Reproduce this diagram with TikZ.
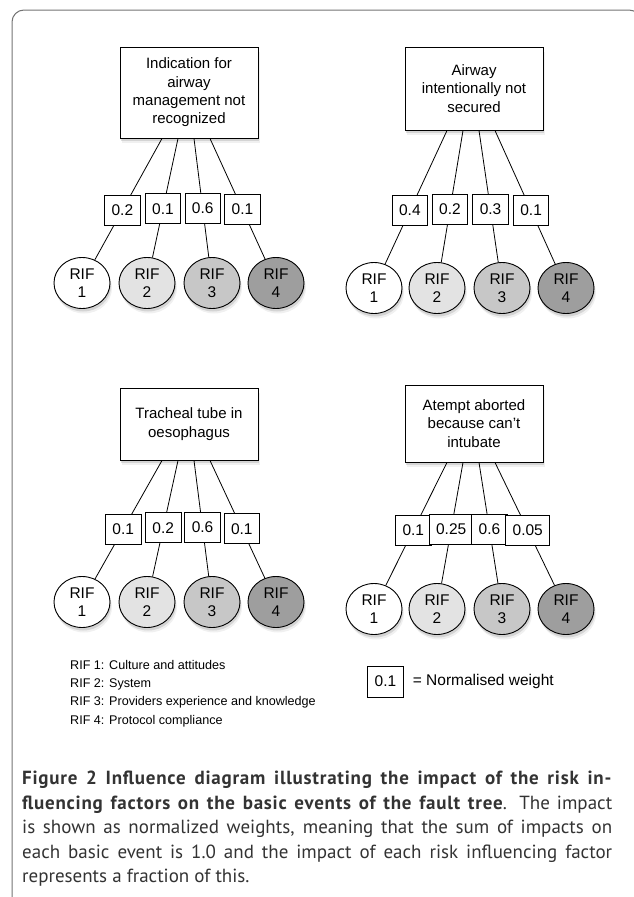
\documentclass[tikz,border=0pt]{standalone}
\usepackage{fontspec}
\setmainfont{Liberation Sans}
\newfontfamily\capfont[BoldFeatures={LetterSpace=4}]{PT Sans}
\usetikzlibrary{shapes.geometric,shadows,positioning}
\definecolor{rif1}{gray}{1.0}
\definecolor{rif2}{gray}{0.89}
\definecolor{rif3}{gray}{0.78}
\definecolor{rif4}{gray}{0.62}
\definecolor{framegray}{gray}{0.45}
\definecolor{captext}{gray}{0.2}

\begin{document}
\begin{tikzpicture}[x=1pt, y=-1pt,
    shadowed/.style={drop shadow={shadow xshift=1pt, shadow yshift=-3pt, opacity=0.25},
                     drop shadow={shadow xshift=2pt, shadow yshift=-5pt, opacity=0.12}},
    event/.style={draw, fill=white, line width=1pt, minimum width=138pt, align=center,
                  font=\fontsize{15}{18.3}\selectfont, shadowed},
    weight/.style={draw, fill=white, line width=0.8pt, minimum width=34pt, minimum height=30pt,
                   inner xsep=7pt, font=\fontsize{15.5}{18}\selectfont},
    rif/.style={ellipse, draw, line width=0.9pt, minimum width=56pt, minimum height=51pt,
                inner sep=0pt, align=center, font=\fontsize{15.5}{18}\selectfont, shadowed},
    link/.style={line width=0.8pt},
    key/.style={align=left, inner sep=0pt, font=\fontsize{12.6}{18.3}\selectfont},
    caption/.style={align=left, inner sep=0pt, text=captext, font=\capfont\fontsize{19}{24.5}\selectfont}
]
    \useasboundingbox (0,0) rectangle (633,897);

    % Frame
    \draw[framegray, line width=1pt, rounded corners=12pt] (12,930) -- (12,10) -- (641,10) -- (641,930);

    % Indication for airway management not recognized
    \node[event, minimum height=91pt] (ind) at (189,92.5) {Indication for\\airway\\management not\\recognized};
    \foreach \i/\x/\dx/\w in {1/82/-27/0.2, 2/147/-11/0.1, 3/212/5/0.6, 4/276/21/0.1} {
        \node[rif, fill=rif\i] (ind-r\i) at (\x,283) {RIF\\\i};
        \path (ind.south) ++(\dx,0) coordinate (ind-s\i);
        \draw[link] (ind-s\i) -- node[weight, pos=0.59] {\w} (ind-r\i);
    }

    % Airway intentionally not secured
    \node[event, minimum height=83pt] (air) at (474,88.5) {Airway\\intentionally not\\secured};
    \foreach \i/\x/\dx/\w in {1/374/-27/0.4, 2/437/-11/0.2, 3/502/5/0.3, 4/566/21/0.1} {
        \node[rif, fill=rif\i] (air-r\i) at (\x,288) {RIF\\\i};
        \path (air.south) ++(\dx,0) coordinate (air-s\i);
        \draw[link] (air-s\i) -- node[weight, pos=0.6] {\w} (air-r\i);
    }

    % Tracheal tube in oesophagus
    \node[event, minimum height=72pt] (tra) at (189,424) {Tracheal tube in\\oesophagus};
    \foreach \i/\x/\dx/\w in {1/82/-27/0.1, 2/147/-11/0.2, 3/212/5/0.6, 4/276/21/0.1} {
        \node[rif, fill=rif\i] (tra-r\i) at (\x,602) {RIF\\\i};
        \path (tra.south) ++(\dx,0) coordinate (tra-s\i);
        \draw[link] (tra-s\i) -- node[weight, pos=0.58] {\w} (tra-r\i);
    }

    % Atempt aborted because can't intubate
    \node[event, minimum height=77pt] (ate) at (474,423.5) {Atempt aborted\\because can't\\intubate};
    \foreach \i/\x/\dx/\w in {1/374/-27/0.1, 2/437/-11/0.25, 3/502/5/0.6, 4/566/21/0.05} {
        \node[rif, fill=rif\i] (ate-r\i) at (\x,609) {RIF\\\i};
        \path (ate.south) ++(\dx,0) coordinate (ate-s\i);
        \draw[link] (ate-s\i) -- node[weight, pos=0.55] {\w} (ate-r\i);
    }

    % Legend
    \node[key, anchor=north west] (rifkey) at (70,660) {RIF 1: Culture and attitudes\\RIF 2: System\\RIF 3: Providers experience and knowledge\\RIF 4: Protocol compliance};
    \node[weight, minimum height=31pt] (keyw) at (385.5,681.5) {0.1};
    \node[right=9pt of keyw, inner sep=0pt, font=\fontsize{15.5}{18}\selectfont] (keytxt) {= Normalised weight};

    % Caption
    \node[caption, anchor=north west] (cap) at (22,771) {\makebox[590pt][s]{\textbf{Figure 2 Influence diagram illustrating the impact of the risk in-}}\\
        \makebox[590pt][s]{\textbf{fluencing factors on the basic events of the fault tree}. The impact}\\
        \makebox[590pt][s]{is shown as normalized weights, meaning that the sum of impacts on}\\
        \makebox[590pt][s]{each basic event is 1.0 and the impact of each risk influencing factor}\\
        represents a fraction of this.};
\end{tikzpicture}
\end{document}
